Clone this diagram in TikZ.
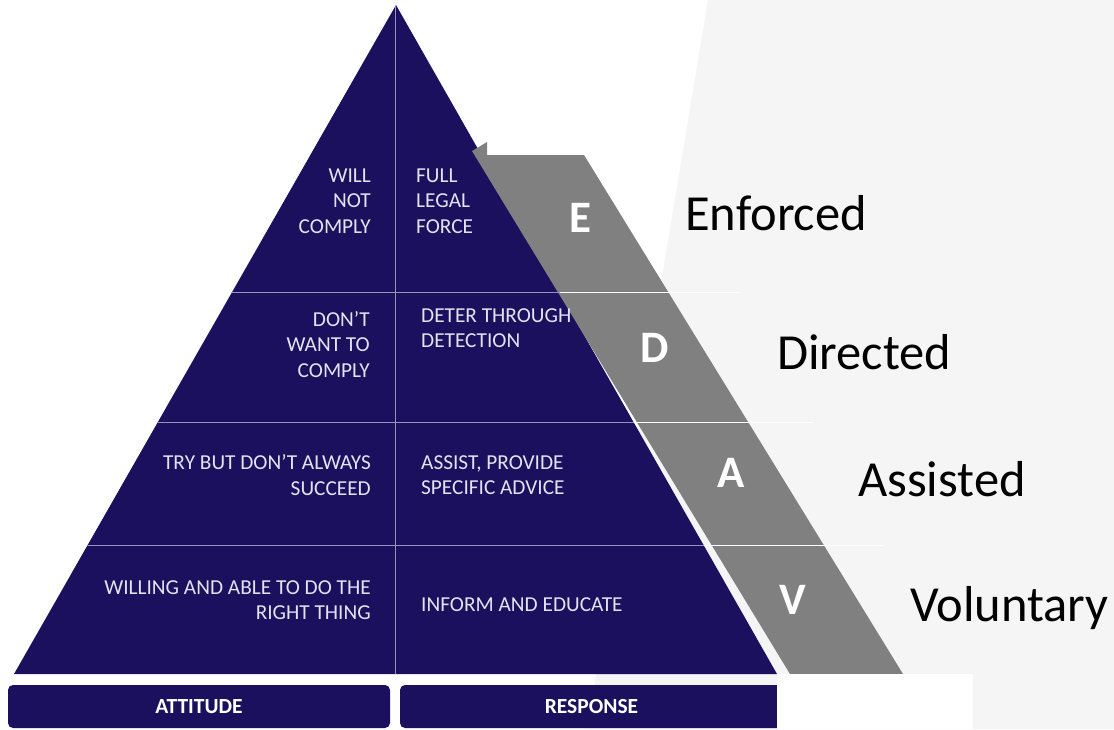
\documentclass[tikz,border=0pt]{standalone}
\usepackage{fontspec}
\setmainfont{Carlito}
\usetikzlibrary{positioning}

\definecolor{pyrblue}{RGB}{27,16,94}
\definecolor{bandgray}{RGB}{128,128,128}
\definecolor{bggray}{RGB}{245,245,245}
\definecolor{splitline}{RGB}{150,145,190}
\definecolor{paletext}{RGB}{228,226,238}

\begin{document}
\begin{tikzpicture}[x=1pt,y=-1pt]
    \tikzstyle{every node}=[inner sep=0pt]
    \tikzstyle{attitude}=[text=paletext, font=\fontsize{21.3}{25.5}\selectfont, align=right, anchor=east]
    \tikzstyle{response}=[text=paletext, font=\fontsize{21.3}{25.5}\selectfont, align=left, anchor=west]
    \tikzstyle{level letter}=[text=white, font=\fontsize{45}{54}\selectfont\bfseries]
    \tikzstyle{level name}=[text=black, font=\fontsize{50.5}{60}\selectfont, anchor=base west]
    \tikzstyle{bar}=[fill=pyrblue, rounded corners=5pt, minimum height=43pt, text=white, font=\fontsize{21.5}{24}\selectfont\bfseries]

    % Page and background
    \useasboundingbox (0,0) rectangle (1114,729);
    \fill[bggray] (708,0) -- (1114,0) -- (1114,729) -- (587,729) -- cycle;

    % Draw the pyramid
    \coordinate (apex) at (396,5);
    \coordinate (base-l) at (14,674);
    \coordinate (base-r) at (777,674);
    \fill[pyrblue] (apex) -- (base-r) -- (base-l) -- cycle;

    % Draw the band with its arrow head
    \fill[bandgray] (472,151) -- (487,142) -- (487,155) -- (584,155)
        -- (903,674) -- (790,674) -- cycle;

    % Level dividers, white over the band, lighter inside the pyramid
    \foreach \y / \xl / \xr in {292/232/740, 422/158/813, 545/88/884}
        \draw[white, line width=1pt] (\xl,\y) -- (\xr,\y);
    \begin{scope}
        \clip (apex) -- (base-r) -- (base-l) -- cycle;
        \foreach \y in {292,422,545}
            \draw[splitline, line width=1pt] (0,\y) -- (800,\y);
        \draw[splitline, line width=1pt] (395,0) -- (395,674);
    \end{scope}

    % Attitude column
    \node[attitude] (att-1) at (371,201) {WILL\\NOT\\COMPLY};
    \node[attitude] (att-2) at (370,344.5) {DON’T\\WANT TO\\COMPLY};
    \node[attitude] (att-3) at (371,475) {TRY BUT DON’T ALWAYS\\SUCCEED};
    \node[attitude] (att-4) at (371,600) {WILLING AND ABLE TO DO THE\\RIGHT THING};

    % Response column
    \node[response] (resp-1) at (416,201) {FULL\\LEGAL\\FORCE};
    \node[response] (resp-2) at (421,328) {DETER THROUGH\\DETECTION};
    \node[response] (resp-3) at (421,475) {ASSIST, PROVIDE\\SPECIFIC ADVICE};
    \node[response] (resp-4) at (421,605) {INFORM AND EDUCATE};

    % Letters on the band and level names
    \foreach \name / \x / \y in {E/580/218, D/655/348, A/731/473, V/793/600}
        \node[level letter] (L-\name) at (\x,\y) {\name};
    \foreach \name / \x / \y in {Enforced/685/230, Directed/777/369, Assisted/858/496, Voluntary/910/621}
        \node[level name] (N-\name) at (\x,\y) {\name};

    % Column bars
    \node[bar, minimum width=382pt] (attitude) at (199,706.5) {ATTITUDE};
    \node[bar, minimum width=383pt] (response) at (591.5,706.5) {RESPONSE};
    \fill[white] (777,674) rectangle (973,729);

\end{tikzpicture}
\end{document}
